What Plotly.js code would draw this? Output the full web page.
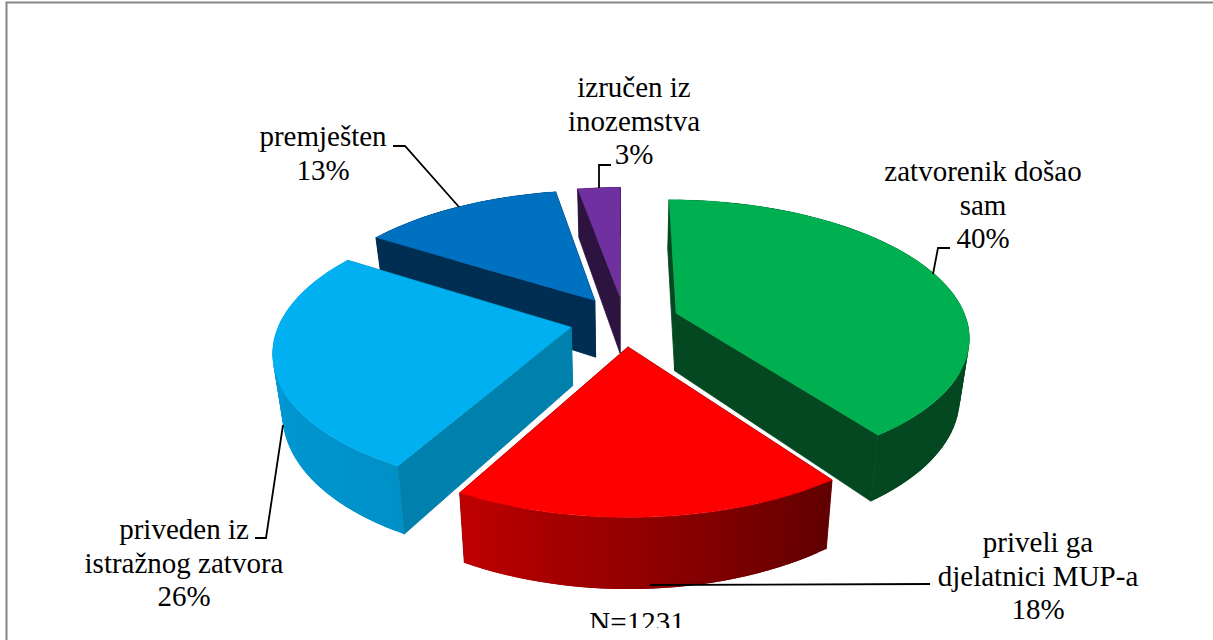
<!DOCTYPE html>
<html>
<head>
<meta charset="utf-8">
<script src="https://cdn.plot.ly/plotly-3.0.1.min.js"></script>
<style>html,body{margin:0;padding:0;background:#fff;overflow:hidden}</style>
</head>
<body>
<div id="chart" style="width:1213px;height:640px"></div>
<script>
// Data, clockwise from twelve o'clock (shares estimated from the drawn angles, labels as printed)
const categories = ["zatvorenik došao sam", "priveli ga djelatnici MUP-a", "priveden iz istražnog zatvora", "premješten", "izručen iz inozemstva"];
const shares = [40, 18, 26, 13.2, 2.8];
const labelLines = [["zatvorenik došao", "sam", "40%"], ["priveli ga", "djelatnici MUP-a", "18%"], ["priveden iz", "istražnog zatvora", "26%"], ["premješten", "13%"], ["izručen iz", "inozemstva", "3%"]];
const note = "N=1231";

// Styles
const topColors = ["#00B050", "#FF0000", "#00B0F0", "#0070C0", "#7030A0"];
const faceColors = ["#034820", "#700000", "#0080AC", "#002E52", "#2D1340"];
const arcFrom = [[3,72,32], [96,0,0], [0,144,200], [0,46,82], [45,19,64]];
const arcTo = [[3,72,32], [190,0,0], [0,160,222], [0,46,82], [45,19,64]];
const paintOrder = [4, 3, 0, 2, 1];
const FONT = "Liberation Serif, serif";

// Pie projection settings
const P = {cx: 624.5, cy: 321, ax: 291, by: 134, k: 0.16, pull: 0.188, depth: 58, shrink: 0.972};
function rad(d) { return d * Math.PI / 180; }
function project(X, Y, bottom) {
  const w = 1 + P.k * Y;
  let x = P.ax * X / w, y = -P.by * Y / w;
  if (bottom) { x *= P.shrink; y += P.depth / w; }
  return [P.cx + x, P.cy + y];
}
function slicePoint(mid, theta, r, bottom) {
  const X = P.pull * Math.sin(rad(mid)) + r * Math.sin(rad(theta));
  const Y = P.pull * Math.cos(rad(mid)) + r * Math.cos(rad(theta));
  return project(X, Y, bottom);
}
function poly(points, color, lw) {
  const xs = points.map(p => p[0]), ys = points.map(p => p[1]);
  xs.push(xs[0]); ys.push(ys[0]);
  return {type: "scatter", mode: "lines", x: xs, y: ys, fill: "toself", fillcolor: color,
          line: {color: color, width: lw}, hoverinfo: "skip", showlegend: false};
}

const total = shares.reduce((a, b) => a + b, 0);
const spans = [];
let acc = 0;
shares.forEach(v => { const a = acc / total * 360; acc += v; spans.push([a, acc / total * 360]); });

const traces = [];
paintOrder.forEach(i => {
  const a0 = spans[i][0], a1 = spans[i][1], mid = (a0 + a1) / 2;
  const steps = Math.max(6, Math.round((a1 - a0) / 2));
  const face = t => poly([slicePoint(mid, t, 0, false), slicePoint(mid, t, 1, false),
                          slicePoint(mid, t, 1, true), slicePoint(mid, t, 0, true)], faceColors[i], 0.8);
  const a0Faces = Math.sin(rad(a0)) <= 0 || a0 === 0;   // start face turned towards the viewer
  const a1Faces = Math.sin(rad(a1)) > 0;                // end face turned towards the viewer
  if (!a0Faces) traces.push(face(a0));
  if (!a1Faces) traces.push(face(a1));
  // rim: each band runs under the next one, so no seams show
  for (let s = 0; s < steps; s++) {
    const f = (s + .5) / steps;
    const c = arcFrom[i].map((v, n) => Math.round(v + (arcTo[i][n] - v) * f));
    const upper = [], lower = [];
    for (let q = s; q <= Math.min(s + 2, steps); q++) {
      const t = a0 + (a1 - a0) * q / steps;
      upper.push(slicePoint(mid, t, 1, false));
      lower.unshift(slicePoint(mid, t, 1, true));
    }
    traces.push(poly(upper.concat(lower), `rgb(${c.join(",")})`, 0));
  }
  if (a0Faces) traces.push(face(a0));
  if (a1Faces) traces.push(face(a1));
  // top
  const top = [slicePoint(mid, a0, 0, false)];
  for (let s = 0; s <= 60; s++) top.push(slicePoint(mid, a0 + (a1 - a0) * s / 60, 1, false));
  traces.push(poly(top, topColors[i], 0.3));
});

// Leader lines: elbow beside the label, ending on the slice
const leaderPaths = [
  {x: [950, 938, 933], y: [248, 248, 274]},
  {x: [930, 650], y: [584, 585]},
  {x: [255, 266, 283], y: [538, 538, 425]},
  {x: [393, 405, 459], y: [146, 146, 207]},
  {x: [611, 599, 599], y: [165, 165, 188]}
];
leaderPaths.forEach(p => traces.push({type: "scatter", mode: "lines", x: p.x, y: p.y,
  line: {color: "#000", width: 1.8}, hoverinfo: "skip", showlegend: false}));

// Label text placement (one row per line of text)
const labelCentreX = [983, 1038, 184, 323, 634];
const labelFirstY = [173.5, 544.5, 531.5, 138.5, 89.5];
const lineStep = 33.8;
const tx = [], ty = [], tt = [];
labelLines.forEach((lines, i) => lines.forEach((t, n) => {
  tx.push(labelCentreX[i]); ty.push(labelFirstY[i] + n * lineStep); tt.push(t);
}));
tx.push(637); ty.push(625); tt.push(note);
traces.push({type: "scatter", mode: "text", x: tx, y: ty, text: tt, textposition: "middle center",
  textfont: {family: FONT, size: 29, color: "#000"}, hoverinfo: "skip", showlegend: false, cliponaxis: true});

const layout = {
  width: 1213, height: 640, autosize: false, showlegend: false,
  margin: {l: 0, r: 0, t: 0, b: 12, pad: 0},
  paper_bgcolor: "#fff", plot_bgcolor: "#fff",
  xaxis: {range: [0, 1213], visible: false, fixedrange: true},
  yaxis: {range: [628, 0], visible: false, fixedrange: true},
  shapes: [
    {type: "line", xref: "paper", yref: "paper", x0: 6.5/1213, x1: 6.5/1213, y0: -12/628, y1: 625.5/628, line: {color: "#868686", width: 2}},
    {type: "line", xref: "paper", yref: "paper", x0: 5.5/1213, x1: 1, y0: 625.5/628, y1: 625.5/628, line: {color: "#868686", width: 2}}
  ]
};
Plotly.newPlot("chart", traces, layout, {displayModeBar: false, staticPlot: true});
</script>
</body>
</html>
